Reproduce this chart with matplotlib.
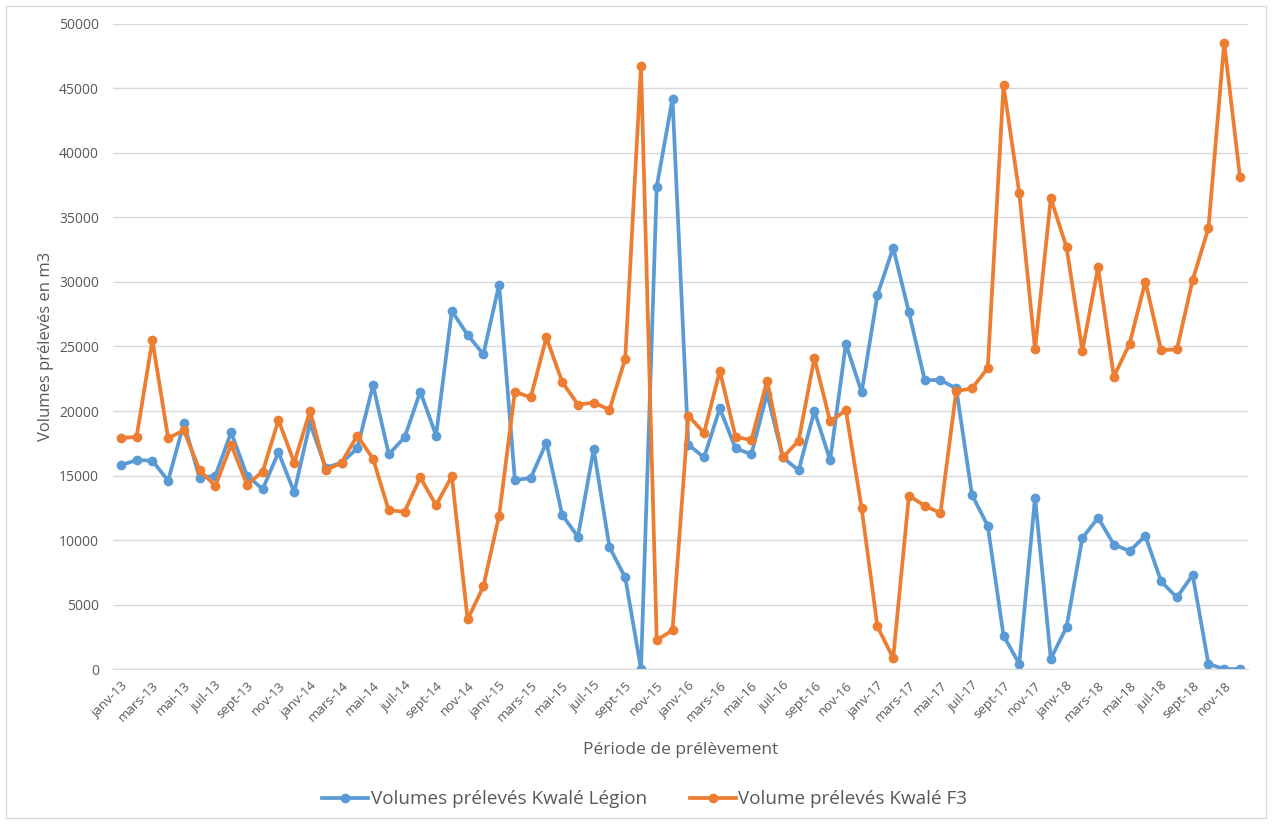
import matplotlib.pyplot as plt
from matplotlib.patches import Rectangle

plt.rcParams['font.family'] = ['Open Sans', 'DejaVu Sans']

# Monthly periods janv-13 .. déc-18
mois = ['janv', 'févr', 'mars', 'avr', 'mai', 'juin',
        'juil', 'août', 'sept', 'oct', 'nov', 'déc']
annees = ['13', '14', '15', '16', '17', '18']
periodes = [m + '-' + a for a in annees for m in mois]

# Volumes prélevés Kwalé Légion (m3)
legion = [15800, 16200, 16150, 14600, 19050, 14800, 15000, 18350, 15000, 13950, 16800, 13700,
          19050, 15600, 16000, 17100, 22000, 16650, 17950, 21500, 18100, 27750, 25900, 24400,
          29800, 14650, 14800, 17550, 11950, 10250, 17050, 9450, 7100, 0, 37400, 44200,
          17400, 16400, 20200, 17100, 16650, 21350, 16400, 15400, 20000, 16200, 25200, 21450,
          29000, 32650, 27650, 22400, 22400, 21750, 13500, 11100, 2590, 400, 13280, 800,
          3260, 10150, 11730, 9650, 9150, 10320, 6790, 5550, 7300, 400, 0, 0]

# Volume prélevés Kwalé F3 (m3)
f3 = [17900, 18000, 25500, 17900, 18500, 15400, 14200, 17400, 14300, 15300, 19300, 16000,
      20000, 15400, 16000, 18100, 16300, 12300, 12200, 14850, 12700, 14950, 3850, 6400,
      11900, 21500, 21050, 25700, 22250, 20500, 20650, 20100, 24050, 46750, 2250, 3000,
      19650, 18300, 23100, 18000, 17750, 22350, 16400, 17700, 24100, 19200, 20050, 12450,
      3300, 850, 13450, 12650, 12100, 21550, 21750, 23330, 45230, 36890, 24780, 36480,
      32680, 24680, 31140, 22660, 25220, 30030, 24710, 24780, 30160, 34160, 48550, 38160]

blue = '#5B9BD5'
orange = '#ED7D31'
gris = '#595959'

fig = plt.figure(figsize=(12.72, 8.25), dpi=100)
ax = fig.add_axes([0.0888, 0.189, 0.8922, 0.782])

x = list(range(len(periodes)))
ax.plot(x, legion, color=blue, lw=2.7, marker='o', ms=6, label='Volumes prélevés Kwalé Légion')
ax.plot(x, f3, color=orange, lw=2.7, marker='o', ms=6, label='Volume prélevés Kwalé F3')

ax.set_xlim(-0.5, len(periodes) - 0.5)
ax.set_ylim(0, 50000)
ax.set_yticks(range(0, 50001, 5000))
ax.set_xticks(x[::2])
ax.set_xticklabels(periodes[::2], rotation=45, ha='right', va='top',
                   rotation_mode='anchor', fontsize=9.5, color=gris)
ax.tick_params(axis='y', labelsize=10, colors=gris, length=0, pad=10)
ax.tick_params(axis='x', length=0, pad=7)

ax.grid(axis='y', color='#D9D9D9', lw=1)
ax.set_axisbelow(True)
for s in ['top', 'right', 'left']:
    ax.spines[s].set_visible(False)
ax.spines['bottom'].set_color('#D9D9D9')

ax.set_ylabel('Volumes prélevés en m3', fontsize=12, color=gris, labelpad=4)
ax.set_xlabel('Période de prélèvement', fontsize=12.5, color=gris, labelpad=13)

fig.legend(loc='center', bbox_to_anchor=(0.507, 0.031), ncol=2, frameon=False,
           fontsize=13.6, labelcolor=gris, handlelength=2.4, handletextpad=0.15,
           columnspacing=2.3)

# chart border
fig.patches.append(Rectangle((0.005, 0.008), 0.99, 0.985, transform=fig.transFigure,
                             fill=False, edgecolor='#D9D9D9', lw=1))

fig.savefig('out.png', dpi=100)
